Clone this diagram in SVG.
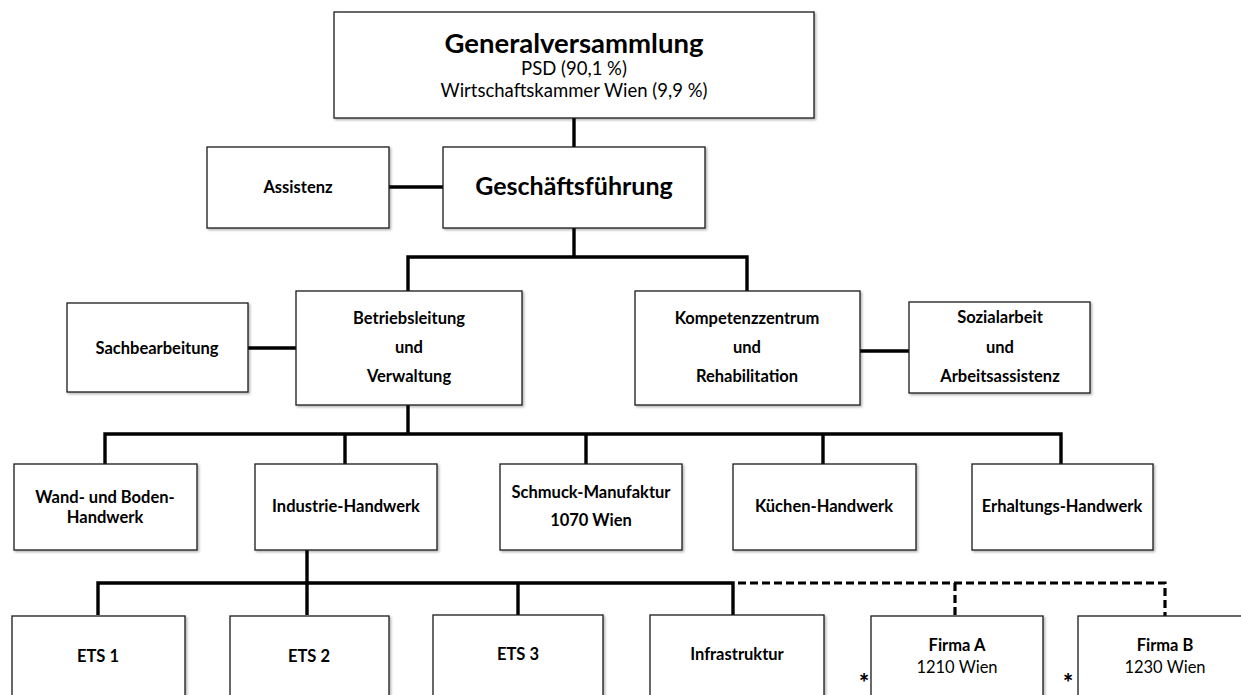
<svg xmlns="http://www.w3.org/2000/svg" width="1241" height="695" viewBox="0 0 1241 695">
<style>
.box{fill:#fff;stroke:#1a1a1a;stroke-width:1.3;filter:url(#sh)}
.t{font-family:Lato,"Open Sans","Liberation Sans",sans-serif;font-weight:bold;font-size:16.5px;fill:#000;text-anchor:middle}
.r{font-weight:normal}
.s{font-size:24px;font-weight:900}
.c{fill:none;stroke:#000;stroke-width:3.4}
.d{fill:none;stroke:#000;stroke-width:3.2;stroke-dasharray:8 4}
</style>
<defs>
<filter id="sh" x="-5%" y="-5%" width="112%" height="115%">
<feDropShadow dx="1.5" dy="1.5" stdDeviation="1" flood-color="#000" flood-opacity="0.3"/>
</filter>
</defs>
<rect width="1241" height="695" fill="#fff"/>
<g id="connectors">
<path class="c" d="M574 118V147M389 187H443M574 228V257M408 291V257H747V291M248 348H296M860 351H909"/>
<path class="c" d="M408 405V434M105 464V434H1061V464M345 434V464M586 434V464M823 434V464"/>
<path class="c" d="M307 550V583M98 615V583H733V615M307 583V615M518 583V615"/>
<path class="d" d="M738 583H1165V616M955 583V616"/>
</g>
<g id="generalversammlung">
<rect class="box" x="334" y="12" width="480" height="106"/>
<text class="t" x="574" y="53" style="font-size:27.5px">Generalversammlung</text>
<text class="t r" x="574" y="75" style="font-size:18.5px">PSD (90,1 %)</text>
<text class="t r" x="574" y="97" style="font-size:18.5px">Wirtschaftskammer Wien (9,9 %)</text>
</g>
<g id="assistenz">
<rect class="box" x="207" y="147" width="182" height="81"/>
<text class="t" x="298" y="193">Assistenz</text>
</g>
<g id="geschaeftsfuehrung">
<rect class="box" x="443" y="147" width="262" height="81"/>
<text class="t" x="574" y="195" style="font-size:25px">Geschäftsführung</text>
</g>
<g id="sachbearbeitung">
<rect class="box" x="67" y="303" width="181" height="89"/>
<text class="t" x="157" y="354">Sachbearbeitung</text>
</g>
<g id="betriebsleitung">
<rect class="box" x="296" y="291" width="226" height="114"/>
<text class="t" x="409" y="324">Betriebsleitung</text>
<text class="t" x="409" y="353">und</text>
<text class="t" x="409" y="382">Verwaltung</text>
</g>
<g id="kompetenzzentrum">
<rect class="box" x="635" y="291" width="225" height="114"/>
<text class="t" x="747" y="324">Kompetenzzentrum</text>
<text class="t" x="747" y="353">und</text>
<text class="t" x="747" y="382">Rehabilitation</text>
</g>
<g id="sozialarbeit">
<rect class="box" x="909" y="302" width="181" height="91"/>
<text class="t" x="1000" y="323">Sozialarbeit</text>
<text class="t" x="1000" y="353">und</text>
<text class="t" x="1000" y="382">Arbeitsassistenz</text>
</g>
<g id="wand">
<rect class="box" x="14" y="464" width="183" height="86"/>
<text class="t" x="105" y="503">Wand- und Boden-</text>
<text class="t" x="105" y="523">Handwerk</text>
</g>
<g id="industrie">
<rect class="box" x="255" y="464" width="182" height="86"/>
<text class="t" x="346" y="512">Industrie-Handwerk</text>
</g>
<g id="schmuck">
<rect class="box" x="500" y="464" width="182" height="86"/>
<text class="t" x="591" y="498">Schmuck-Manufaktur</text>
<text class="t" x="591" y="526">1070 Wien</text>
</g>
<g id="kuechen">
<rect class="box" x="733" y="464" width="183" height="86"/>
<text class="t" x="824" y="512">Küchen-Handwerk</text>
</g>
<g id="erhaltung">
<rect class="box" x="972" y="464" width="181" height="86"/>
<text class="t" x="1062" y="512">Erhaltungs-Handwerk</text>
</g>
<g id="ets1">
<rect class="box" x="12" y="616" width="173" height="90"/>
<text class="t" x="98" y="662">ETS 1</text>
</g>
<g id="ets2">
<rect class="box" x="230" y="616" width="159" height="90"/>
<text class="t" x="309" y="662">ETS 2</text>
</g>
<g id="ets3">
<rect class="box" x="433" y="615" width="170" height="90"/>
<text class="t" x="518" y="660">ETS 3</text>
</g>
<g id="infrastruktur">
<rect class="box" x="650" y="615" width="174" height="90"/>
<text class="t" x="737" y="660">Infrastruktur</text>
</g>
<g id="firmaA">
<rect class="box" x="871" y="616" width="172" height="90"/>
<text class="t" x="957" y="651">Firma A</text>
<text class="t r" x="957" y="673" style="font-size:16.5px">1210 Wien</text>
<text class="t s" x="864" y="692">*</text>
</g>
<g id="firmaB">
<rect class="box" x="1078" y="616" width="172" height="90"/>
<text class="t" x="1165" y="651">Firma B</text>
<text class="t r" x="1165" y="673" style="font-size:16.5px">1230 Wien</text>
<text class="t s" x="1068" y="692">*</text>
</g>
</svg>
